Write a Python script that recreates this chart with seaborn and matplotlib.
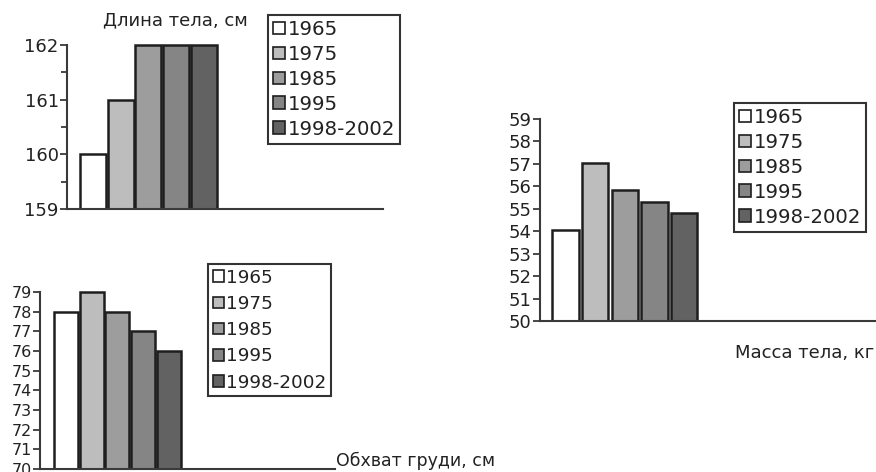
import matplotlib
matplotlib.use("Agg")
import matplotlib.pyplot as plt
from matplotlib.patches import Patch
import numpy as np
import pandas as pd
import seaborn as sns

# Survey periods and greyscale fills used in every panel
periods = ["1965", "1975", "1985", "1995", "1998-2002"]
fills = ["#ffffff", "#bdbdbd", "#9d9d9d", "#858585", "#626262"]

# Body measurements by period
body_length = [160, 161, 162, 162, 162]          # Длина тела, см
chest_girth = [78, 79, 78, 77, 76]               # Обхват груди, см
body_mass = [54.05, 57.05, 55.85, 55.3, 54.8]    # Масса тела, кг

length_ticks = [159, 160, 161, 162]
chest_ticks = list(range(70, 80))
mass_ticks = list(range(50, 60))

sns.set_theme(style="white")
plt.rcParams["font.family"] = ["DejaVu Sans"]

W, H = 876, 472
fig = plt.figure(figsize=(W / 100, H / 100), dpi=100)
fig.patch.set_facecolor("white")

EDGE = "#1e1e1e"
AXIS = "#3a3a3a"
palette = dict(zip(periods, fills))


def px_axes(x0, x1, ytop, ybot, headroom=4):
    # a few pixels of headroom above the top tick so bar outlines are not clipped
    return fig.add_axes([x0 / W, 1 - ybot / H, (x1 - x0) / W, (ybot - ytop + headroom) / H])


def panel(ax, values, ticks, xlim, width, tick_size, span_px, minor=None, headroom=4):
    df = pd.DataFrame({"period": periods, "value": values})
    sns.barplot(data=df, x="period", y="value", hue="period", palette=palette,
                order=periods, hue_order=periods, width=width, dodge=False,
                edgecolor=EDGE, linewidth=1.8, legend=False, ax=ax)
    lo, hi = ticks[0], ticks[-1]
    extra = (hi - lo) * headroom / span_px
    ax.set_ylim(lo, hi + extra)
    ax.spines["left"].set_bounds(lo, hi)
    ax.set_xlim(*xlim)
    ax.set_yticks(ticks)
    ax.set_yticklabels([str(t) for t in ticks])
    if minor is not None:
        ax.set_yticks(minor, minor=True)
    ax.set_xticks([])
    ax.set_xlabel("")
    ax.set_ylabel("")
    for s in ("top", "right"):
        ax.spines[s].set_visible(False)
    for s in ("left", "bottom"):
        ax.spines[s].set_color(AXIS)
        ax.spines[s].set_linewidth(1.5)
    ax.tick_params(axis="y", which="major", direction="out", length=5, width=1.3,
                   color=AXIS, labelsize=tick_size, pad=1, labelcolor="#222222", left=True)
    ax.tick_params(axis="y", which="minor", direction="out", length=4, width=1.3,
                   color=AXIS, left=True)
    ax.set_facecolor("none")


def legend_box(ax, x, y, size, spacing):
    handles = [Patch(facecolor=c, edgecolor=EDGE, linewidth=1.2) for c in fills]
    leg = ax.legend(handles, periods, loc="upper left",
                    bbox_to_anchor=(x / W, 1 - y / H), bbox_transform=fig.transFigure,
                    fontsize=size, frameon=True, fancybox=False, shadow=False,
                    handlelength=0.6, handleheight=0.6, handletextpad=0.15,
                    labelspacing=spacing, borderpad=0.25, borderaxespad=0)
    fr = leg.get_frame()
    fr.set_edgecolor("#333333")
    fr.set_linewidth(1.5)
    fr.set_facecolor("white")
    fr.set_alpha(1)
    for t in leg.get_texts():
        t.set_color("#222222")


# Body length
ax1 = px_axes(67, 383, 45, 209)
panel(ax1, body_length, length_ticks, (-0.94, 10.47), 0.94, 13, 164,
      minor=[159.5, 160.5, 161.5])
legend_box(ax1, 268, 15, 14.2, 0.3)
fig.text(175 / W, 1 - 20 / H, "Длина тела, см", ha="center", va="center",
         fontsize=13, color="#222222")

# Chest girth
ax2 = px_axes(40, 335, 292, 469)
panel(ax2, chest_girth, chest_ticks, (-1.02, 10.5), 0.94, 11.5, 177)
legend_box(ax2, 208, 264, 13.2, 0.45)
fig.text(336 / W, 1 - 461 / H, "Обхват груди, см", ha="left", va="center",
         fontsize=12.5, color="#222222")

# Body mass
ax3 = px_axes(540, 877, 119, 321)
panel(ax3, body_mass, mass_ticks, (-0.86, 10.5), 0.88, 13, 202)
legend_box(ax3, 734, 103, 14.2, 0.3)
fig.text(735 / W, 1 - 353 / H, "Масса тела, кг", ha="left", va="center",
         fontsize=13, color="#222222")

fig.savefig("out.png", dpi=100)
